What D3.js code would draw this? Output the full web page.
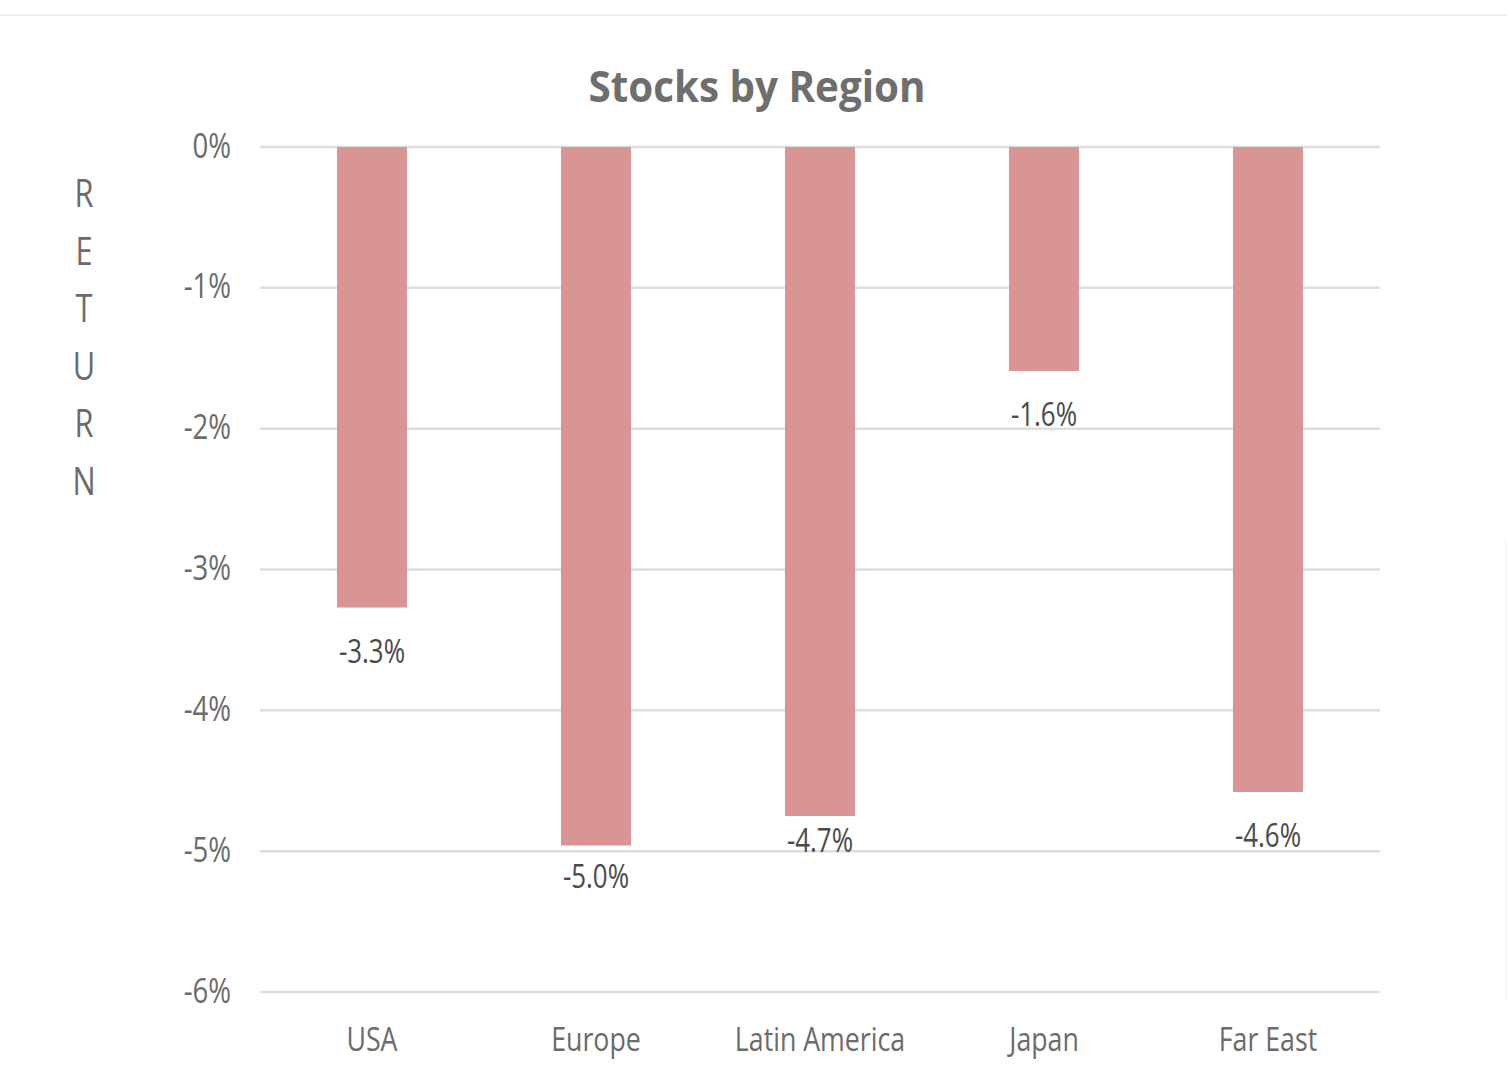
<!DOCTYPE html>
<html>
<head>
<meta charset="utf-8">
<script src="https://cdn.jsdelivr.net/npm/d3@7"></script>
<style>
  html, body { margin: 0; padding: 0; background: #ffffff; }
  svg { display: block; }
  text { font-family: "Open Sans", "Noto Sans", sans-serif; }
</style>
</head>
<body>
<svg id="chart" width="1507" height="1086"></svg>
<script>
// ---- data ----
const categories = ["USA", "Europe", "Latin America", "Japan", "Far East"];
const returns = [-3.27, -4.96, -4.75, -1.59, -4.58];
const valueLabels = ["-3.3%", "-5.0%", "-4.7%", "-1.6%", "-4.6%"];
const yTicks = [0, -1, -2, -3, -4, -5, -6];
const yTickLabels = ["0%", "-1%", "-2%", "-3%", "-4%", "-5%", "-6%"];
const titleText = "Stocks by Region";
const yTitle = "RETURN";

// ---- layout (styling, not data) ----
const labelNudge = [0, -13, -19, 0, 0]; // px adjustments of value labels
const SX = 0.81; // horizontal squeeze for text to mimic narrow face

const svg = d3.select("#chart");
const W = 1507, H = 1086;

// frame lines
svg.append("line").attr("x1", 0).attr("x2", W).attr("y1", 15).attr("y2", 15)
  .attr("stroke", "#ececec").attr("stroke-width", 2);
svg.append("line").attr("x1", 1505.5).attr("x2", 1505.5).attr("y1", 540).attr("y2", 1000)
  .attr("stroke", "#f0f0f0").attr("stroke-width", 1);

const x = d3.scaleBand().domain(categories).range([260, 1380])
  .paddingInner(0.6875).paddingOuter(0.34375);
const y = d3.scaleLinear().domain([-6, 0]).range([992, 147]);

// gridlines
svg.append("g").selectAll("line").data(yTicks).join("line")
  .attr("x1", 260).attr("x2", 1380)
  .attr("y1", d => y(d)).attr("y2", d => y(d))
  .attr("stroke", "#dedede").attr("stroke-width", 2.5);

// y tick labels via axis
const yAxis = d3.axisLeft(y).tickValues(yTicks)
  .tickFormat((d, i) => yTickLabels[i]).tickSize(0).tickPadding(0);
const gy = svg.append("g").attr("transform", "translate(231,0)").call(yAxis);
gy.select(".domain").remove();
gy.selectAll(".tick text")
  .attr("x", null).attr("dy", null).attr("y", 10)
  .attr("transform", `scale(${SX},1)`)
  .attr("fill", "#6b6b6b")
  .style("font-size", "34px")
  .style("font-family", "'Open Sans', sans-serif");

// bars
svg.append("g").selectAll("rect").data(returns).join("rect")
  .attr("x", (d, i) => x(categories[i]))
  .attr("width", x.bandwidth())
  .attr("y", d => y(Math.max(0, d)))
  .attr("height", d => Math.abs(y(d) - y(0)))
  .attr("fill", "#d99594");

// value labels
svg.append("g").selectAll("text").data(returns).join("text")
  .attr("transform", (d, i) =>
    `translate(${x(categories[i]) + x.bandwidth() / 2},${y(d) + 55 + labelNudge[i]}) scale(${SX},1)`)
  .attr("text-anchor", "middle")
  .attr("fill", "#4a4a4a")
  .style("font-size", "32px")
  .text((d, i) => valueLabels[i]);

// category labels via axis
const xAxis = d3.axisBottom(x).tickSize(0).tickPadding(0);
const gx = svg.append("g").attr("transform", `translate(0,${y(-6)})`).call(xAxis);
gx.select(".domain").remove();
gx.selectAll(".tick text")
  .attr("y", 59).attr("dy", null)
  .attr("transform", `scale(${SX},1)`)
  .attr("fill", "#6b6b6b")
  .style("font-size", "33px")
  .style("font-family", "'Open Sans', sans-serif");

// title
svg.append("text")
  .attr("transform", `translate(757,102) scale(0.95,1)`)
  .attr("text-anchor", "middle")
  .attr("fill", "#6e6e6e")
  .style("font-size", "42.5px")
  .style("font-weight", "bold")
  .text(titleText);

// vertical y-axis title (stacked letters)
const letterY = d3.scaleLinear().domain([0, yTitle.length - 1]).range([207, 495]);
svg.append("g").selectAll("text").data(yTitle.split("")).join("text")
  .attr("transform", (d, i) => `translate(84,${letterY(i)}) scale(${SX},1)`)
  .attr("text-anchor", "middle")
  .attr("fill", "#6b6b6b")
  .style("font-size", "38px")
  .text(d => d);
</script>
</body>
</html>
